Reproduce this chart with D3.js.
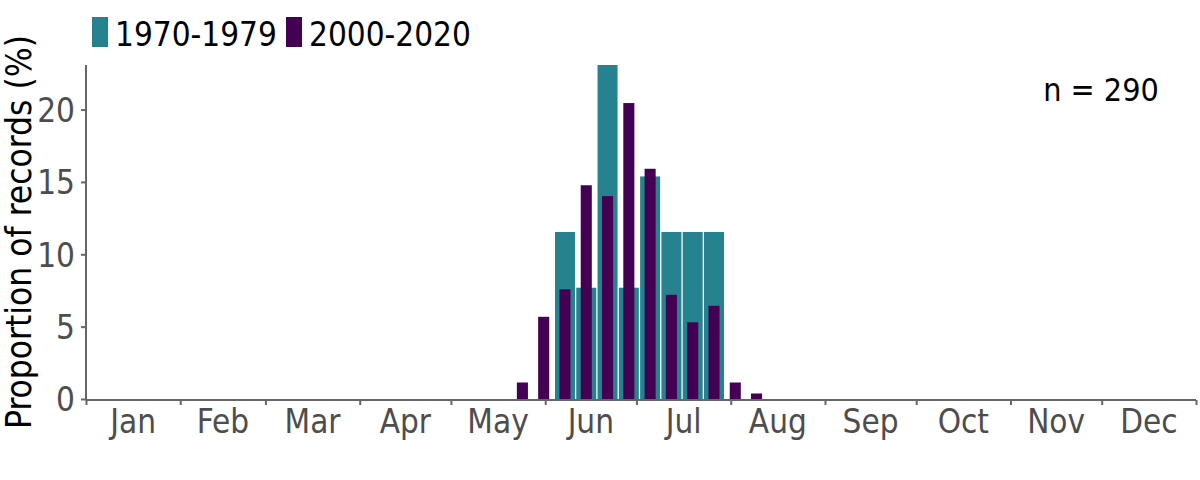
<!DOCTYPE html>
<html>
<head>
<meta charset="utf-8">
<script src="https://cdn.jsdelivr.net/npm/d3@7"></script>
<style>
  html, body { margin: 0; padding: 0; background: #fff; }
  svg { display: block; }
  text { font-family: "DejaVu Sans Condensed", "DejaVu Sans", sans-serif; font-stretch: condensed; }
</style>
</head>
<body>
<svg id="chart" width="1200" height="480"></svg>
<script>
// ---- data ----
const months = ["Jan","Feb","Mar","Apr","May","Jun","Jul","Aug","Sep","Oct","Nov","Dec"];
const monthDays = [31,28,31,30,31,30,31,31,30,31,30,31];
const seriesNames = ["1970-1979", "2000-2020"];
const seriesColors = ["#26828E", "#440154"];
// week-of-year bins
const weeks1970 = [23, 24, 25, 26, 27, 28, 29, 30];
const values1970 = [11.54, 7.69, 23.08, 7.69, 15.38, 11.54, 11.54, 11.54];
const weeks2000 = [21, 22, 23, 24, 25, 26, 27, 28, 29, 30, 31, 32];
const values2000 = [1.14, 5.68, 7.58, 14.77, 14.02, 20.45, 15.91, 7.20, 5.30, 6.44, 1.14, 0.38];
const yTicks = [0, 5, 10, 15, 20];
const nLabel = "n = 290";
const yTitle = "Proportion of records (%)";

(function () {
// ---- layout ----
const svg = d3.select("#chart");
const pLeft = 86, pRight = 1196, pTop = 65, pBottom = 399;
const yMax = d3.max(values1970.concat(values2000));

const x = d3.scaleLinear().domain([0, 365]).range([pLeft, pRight]);
const y = d3.scaleLinear().domain([0, yMax]).range([pBottom, pTop]);

const monthStarts = [0];
monthDays.forEach((d, i) => monthStarts.push(monthStarts[i] + d));
const monthMids = months.map((m, i) => (monthStarts[i] + monthStarts[i + 1]) / 2);

const weekCenter = w => 7 * w - 3.5;
const wideW = 7 * 0.94, narrowW = 7 * 0.52;

// bars: 1970-1979 (wide) behind, 2000-2020 (narrow) in front
svg.append("g").selectAll("rect")
  .data(weeks1970.map((w, i) => ({ w, v: values1970[i] })))
  .join("rect")
  .attr("x", d => x(weekCenter(d.w) - wideW / 2))
  .attr("width", d => x(wideW) - x(0))
  .attr("y", d => y(d.v))
  .attr("height", d => y(0) - y(d.v))
  .attr("fill", seriesColors[0]);

svg.append("g").selectAll("rect")
  .data(weeks2000.map((w, i) => ({ w, v: values2000[i] })))
  .join("rect")
  .attr("x", d => x(weekCenter(d.w) - narrowW / 2))
  .attr("width", d => x(narrowW) - x(0))
  .attr("y", d => y(d.v))
  .attr("height", d => y(0) - y(d.v))
  .attr("fill", seriesColors[1]);

const axisColor = "#666666";
const tickText = "#4D4D4D";

// x axis: ticks at month boundaries, labels at mid-month
const xAxisG = svg.append("g").attr("transform", `translate(0,${pBottom + 1})`);
xAxisG.call(d3.axisBottom(x).tickValues(monthStarts).tickSize(5).tickFormat(""));
xAxisG.select(".domain").attr("stroke", axisColor).attr("stroke-width", 2)
  .attr("d", `M${pLeft},0H${pRight}`);
xAxisG.selectAll(".tick line").attr("stroke", axisColor).attr("stroke-width", 2);
xAxisG.selectAll(".mlabel")
  .data(months)
  .join("text")
  .attr("class", "mlabel")
  .attr("x", (m, i) => x(monthMids[i]))
  .attr("y", 33)
  .attr("text-anchor", "middle")
  .attr("fill", tickText)
  .style("font-size", "33px")
  .text(d => d);

// y axis
const yAxisG = svg.append("g").attr("transform", `translate(${pLeft},0)`);
yAxisG.call(d3.axisLeft(y).tickValues(yTicks).tickSize(5).tickPadding(6));
yAxisG.select(".domain").attr("stroke", axisColor).attr("stroke-width", 2)
  .attr("d", `M0,${pTop}V${pBottom + 1}`);
yAxisG.selectAll(".tick line").attr("stroke", axisColor).attr("stroke-width", 2);
yAxisG.selectAll(".tick text")
  .attr("fill", tickText)
  .attr("dy", "0.36em")
  .style("font-size", "33px")
  .style("font-family", '"DejaVu Sans Condensed", "DejaVu Sans", sans-serif');

// y title
svg.append("text")
  .attr("transform", `translate(31,${(pTop + pBottom) / 2}) rotate(-90)`)
  .attr("text-anchor", "middle")
  .attr("fill", "#000")
  .style("font-size", "35px")
  .text(yTitle);

// legend
const legendX = [92, 286];
const legend = svg.append("g");
seriesNames.forEach((name, i) => {
  legend.append("rect")
    .attr("x", legendX[i]).attr("y", 17)
    .attr("width", 16).attr("height", 30)
    .attr("fill", seriesColors[i]);
  legend.append("text")
    .attr("x", legendX[i] + 23).attr("y", 46)
    .attr("fill", "#000")
    .style("font-size", "33px")
    .text(name);
});

// n label
svg.append("text")
  .attr("x", 1101).attr("y", 101)
  .attr("text-anchor", "middle")
  .attr("fill", "#000")
  .style("font-size", "32px")
  .text(nLabel);
})();
</script>
</body>
</html>
